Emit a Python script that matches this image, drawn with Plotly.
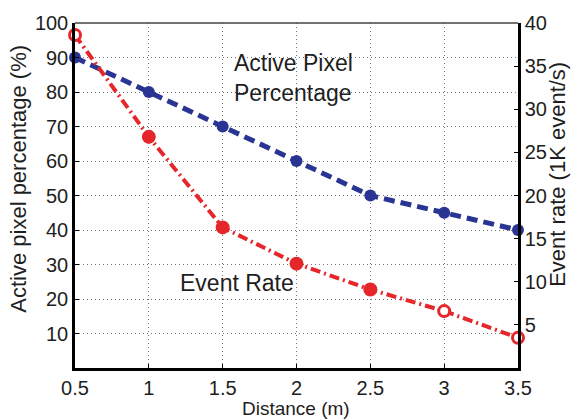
import plotly.graph_objects as go

# Distance from sensor (m)
distance = [0.5, 1.0, 1.5, 2.0, 2.5, 3.0, 3.5]
# Active pixel percentage (%), left axis
active_pct = [90, 80, 70, 60, 50, 45, 40]
# Event rate (1K event/s), right axis
event_rate = [38.6, 26.8, 16.3, 12.1, 9.1, 6.6, 3.5]

left_ticks = [10, 20, 30, 40, 50, 60, 70, 80, 90, 100]
right_ticks = [5, 10, 15, 20, 25, 30, 35, 40]
x_ticks = [0.5, 1, 1.5, 2, 2.5, 3, 3.5]
x_labels = ["0.5", "1", "1.5", "2", "2.5", "3", "3.5"]

BLUE = "#2a3593"
RED = "#e5262b"
INK = "#1e1e1e"
FONT = "Liberation Sans, Arial, sans-serif"

fig = go.Figure()

fig.add_trace(go.Scatter(
    x=distance, y=active_pct, mode="lines+markers",
    line=dict(color=BLUE, width=5, dash="11px,6px"),
    marker=dict(symbol="circle", size=12, color=BLUE),
    cliponaxis=False, showlegend=False,
))

fig.add_trace(go.Scatter(
    x=distance, y=event_rate, mode="lines+markers", yaxis="y2",
    line=dict(color=RED, width=4, dash="10px,4px,2px,4px"),
    marker=dict(symbol="circle", size=11,
                color=["white", RED, RED, RED, RED, "white", "white"],
                line=dict(color=RED, width=3)),
    cliponaxis=False, showlegend=False,
))

# In-plot series labels
fig.add_annotation(x=1.56, y=84.0, xref="x", yref="y", text="Active Pixel<br>Percentage",
                   showarrow=False, xanchor="left", align="left",
                   font=dict(family=FONT, size=23, color=INK))
fig.add_annotation(x=1.2, y=24.6, xref="x", yref="y", text="Event Rate",
                   showarrow=False, xanchor="left",
                   font=dict(family=FONT, size=23, color=INK))

# Axis titles (positions given in pixels, converted below)
fig.add_annotation(x=19, y=176, xref="paper", yref="paper", text="Active pixel percentage (%)",
                   showarrow=False, textangle=-90, xanchor="center", yanchor="middle",
                   font=dict(family=FONT, size=22, color=INK))
fig.add_annotation(x=558, y=172, xref="paper", yref="paper", text="Event rate (1K event/s)",
                   showarrow=False, textangle=-90, xanchor="center", yanchor="middle",
                   font=dict(family=FONT, size=22, color=INK))
fig.add_annotation(x=296, y=409, xref="paper", yref="paper", text="Distance (m)",
                   showarrow=False, xanchor="center", yanchor="middle",
                   font=dict(family=FONT, size=19, color=INK))

axis_common = dict(showline=True, linecolor="black", linewidth=2.5,
                   ticks="inside", ticklen=4, tickcolor="black",
                   tickfont=dict(family=FONT, size=20, color=INK),
                   zeroline=False)

W, H = 573, 420
L, R, T, B = 75, 55, 18, 52

fig.update_layout(
    width=W, height=H,
    margin=dict(l=L, r=R, t=T, b=B),
    paper_bgcolor="white", plot_bgcolor="white",
    font=dict(family=FONT, color=INK),
    xaxis=dict(range=[0.5, 3.5], tickvals=x_ticks, ticktext=x_labels,
               showgrid=True, gridcolor="#777", griddash="1px,3px", gridwidth=1,
               **axis_common),
    yaxis=dict(range=[0, 100], tickvals=left_ticks,
               showgrid=True, gridcolor="#777", griddash="1px,3px", gridwidth=1,
               **axis_common),
    yaxis2=dict(range=[0, 40], tickvals=right_ticks, overlaying="y", side="right",
                showgrid=False, **axis_common),
    shapes=[dict(type="line", xref="paper", yref="paper", x0=0, x1=1, y0=1, y1=1,
                 line=dict(color="#444", width=1.5))],
)

# Convert pixel positions of the title annotations into paper fractions
pw, ph = W - L - R, H - T - B
for ann in fig.layout.annotations:
    if ann.xref == "paper":
        ann.x = (ann.x - L) / pw
        ann.y = 1 - (ann.y - T) / ph

fig.write_html("out.html")
